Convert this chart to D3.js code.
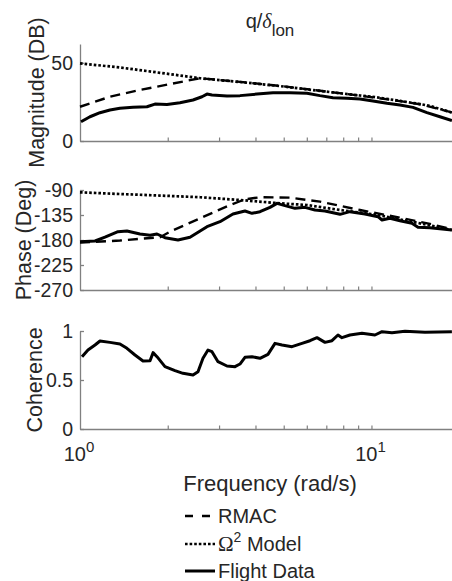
<!DOCTYPE html>
<html>
<head>
<meta charset="utf-8">
<script src="https://cdn.jsdelivr.net/npm/d3@7"></script>
<style>
  body { margin: 0; background: #fff; }
  svg { display: block; font-family: Arial, "Liberation Sans", sans-serif; }
</style>
</head>
<body>
<div id="chart"></div>
<script>
// frequencies (rad/s), one list per series
const magFlightFreq = [1.008, 1.082, 1.171, 1.267, 1.371, 1.520, 1.697, 1.808, 1.988, 2.203, 2.442, 2.621, 2.727, 2.837, 3.193, 3.539, 4.048, 4.593, 5.253, 6.008, 6.658, 7.378, 8.240, 9.131, 10.12, 11.30, 12.53, 13.88, 15.50, 17.18, 18.88];
const magFlight     = [12.3, 15.5, 18.1, 19.8, 20.9, 21.5, 21.9, 23.6, 23.4, 24.5, 26.2, 28.3, 30.0, 29.4, 28.8, 29.0, 30.0, 30.9, 30.9, 30.5, 29.0, 27.7, 27.3, 26.8, 25.6, 24.1, 23.0, 21.5, 18.1, 15.5, 13.0];

const magModelFreq = [1.0, 1.371, 1.882, 2.580, 3.539, 4.855, 6.658, 9.131, 10.28, 12.53, 14.67, 15.87, 18.88];
const magModel     = [49.6, 47.0, 43.6, 40.1, 37.7, 35.1, 32.0, 29.1, 28.1, 25.6, 23.6, 22.4, 18.2];

const magRmacFreq = [1.0, 1.267, 1.606, 2.036, 2.580, 3.539, 4.855, 6.658, 9.131, 12.53, 14.67, 18.88];
const magRmac     = [21.9, 28.3, 32.6, 36.4, 40.1, 37.8, 35.2, 32.1, 29.0, 25.5, 23.5, 18.3];

const phFlightFreq = [1.0, 1.126, 1.218, 1.350, 1.449, 1.606, 1.739, 1.837, 1.957, 2.169, 2.385, 2.727, 3.022, 3.348, 3.681, 3.891, 4.145, 4.485, 4.741, 5.050, 5.465, 5.914, 6.400, 6.927, 7.797, 8.437, 9.499, 10.53, 10.87, 11.57, 12.53, 13.77, 14.44, 15.87, 18.88];
const phFlight     = [-183, -181.8, -175, -165, -163.8, -169.2, -171.6, -169.2, -175.8, -180, -175, -156, -147, -133.2, -127.8, -132, -129, -121.2, -114, -118.2, -123, -121.2, -126, -127.8, -133.8, -129, -133.2, -138, -144, -141, -145.2, -150, -157.2, -157.8, -162];

const phModelFreq = [1.0, 1.371, 1.882, 2.580, 3.539, 4.855, 6.008, 7.797, 10.53, 14.67, 18.88];
const phModel     = [-94.2, -97.2, -100, -103, -108, -114, -117, -126, -135, -150, -162];

const phRmacFreq = [1.0, 1.371, 1.882, 2.036, 2.580, 3.270, 3.681, 4.145, 5.253, 6.658, 9.131, 12.53, 15.87, 18.88];
const phRmac     = [-184.8, -181, -175, -165, -141, -117, -106.8, -103, -103.8, -111, -126, -139.8, -151, -160.7];

const cohFreq = [1.016, 1.065, 1.126, 1.171, 1.267, 1.371, 1.449, 1.544, 1.645, 1.739, 1.781, 1.837, 1.957, 2.118, 2.256, 2.442, 2.540, 2.642, 2.749, 2.837, 2.975, 3.193, 3.402, 3.539, 3.681, 3.891, 4.145, 4.415, 4.667, 4.932, 5.337, 5.776, 6.152, 6.502, 6.927, 7.320, 7.675, 7.921, 8.437, 9.277, 10.28, 10.87, 11.76, 13.03, 15.26, 18.88];
const coh     = [0.738, 0.806, 0.857, 0.898, 0.884, 0.867, 0.823, 0.755, 0.694, 0.697, 0.779, 0.738, 0.636, 0.595, 0.568, 0.551, 0.585, 0.721, 0.806, 0.789, 0.687, 0.643, 0.636, 0.663, 0.731, 0.738, 0.721, 0.762, 0.874, 0.857, 0.840, 0.874, 0.901, 0.932, 0.884, 0.901, 0.959, 0.932, 0.959, 0.976, 0.959, 0.993, 0.983, 0.997, 0.987, 0.993];

const magTicks = [0, 50];
const phaseTicks = [-270, -225, -180, -135, -90];
const cohTicks = [0, 0.5, 1];
const freqMinor = [2, 3, 4, 5, 6, 7, 8, 9, 10];
const freqLabels = [[1, '0'], [10, '1']];

const width = 452, height = 581;
const axisColor = '#808080', textColor = '#262626';

const svg = d3.select('#chart').append('svg')
  .attr('width', width)
  .attr('height', height);

const x = d3.scaleLog().domain([1, 20]).range([80, 459.2]);

const styles = {
  flight: { dash: null, w: 3 },
  model: { dash: '2.6,2', w: 2.7 },
  rmac: { dash: '10,6', w: 2.4 }
};

const panels = [
  { label: 'Magnitude (DB)', domain: [0, 62], range: [141, 44], ticks: magTicks, labelX: 44,
    series: [['model', magModelFreq, magModel], ['rmac', magRmacFreq, magRmac], ['flight', magFlightFreq, magFlight]] },
  { label: 'Phase (Deg)', domain: [-270, -90], range: [290, 190], ticks: phaseTicks, labelX: 31,
    series: [['model', phModelFreq, phModel], ['rmac', phRmacFreq, phRmac], ['flight', phFlightFreq, phFlight]] },
  { label: 'Coherence', domain: [0, 1], range: [429, 331], ticks: cohTicks, labelX: 42,
    series: [['flight', cohFreq, coh]] }
];

panels.forEach((p, i) => {
  const y = d3.scaleLinear().domain(p.domain).range(p.range);
  const g = svg.append('g');

  // y axis (plain hyphen for negatives, like the original)
  const ya = g.append('g')
    .attr('transform', 'translate(80,0)')
    .call(d3.axisLeft(y).tickValues(p.ticks).tickFormat(d => String(d))
      .tickSize(-4).tickSizeOuter(0).tickPadding(7));
  ya.select('.domain').attr('stroke', axisColor).attr('stroke-width', 1.3);
  ya.selectAll('line').attr('stroke', axisColor).attr('stroke-width', 1.3);
  ya.selectAll('text').attr('fill', textColor).attr('font-size', 19.5)
    .attr('font-family', 'Arial, "Liberation Sans", sans-serif');

  // x axis
  const xa = g.append('g')
    .attr('transform', `translate(0,${p.range[0]})`)
    .call(d3.axisBottom(x).tickValues(freqMinor).tickSize(-3.5).tickSizeOuter(0).tickFormat(''));
  xa.select('.domain').attr('stroke', axisColor).attr('stroke-width', 1.3);
  xa.selectAll('line').attr('stroke', axisColor).attr('stroke-width', 1.2);

  // y label
  g.append('text')
    .attr('transform', `translate(${p.labelX},${(p.range[0] + p.range[1]) / 2}) rotate(-90)`)
    .attr('text-anchor', 'middle')
    .attr('font-size', 21.5)
    .attr('fill', textColor)
    .text(p.label);

  // curves
  const line = d3.line().x(d => x(d[0])).y(d => y(d[1]));
  p.series.forEach(([kind, fx, vals]) => {
    const s = styles[kind];
    g.append('path')
      .datum(fx.map((f, k) => [f, vals[k]]))
      .attr('d', line)
      .attr('fill', 'none')
      .attr('stroke', '#000')
      .attr('stroke-width', s.w)
      .attr('stroke-linejoin', 'round')
      .attr('stroke-dasharray', s.dash);
  });

  // x tick labels only on the bottom panel
  if (i === panels.length - 1) {
    freqLabels.forEach(([v, e]) => {
      const t = g.append('text')
        .attr('x', x(v) - 1)
        .attr('y', 461)
        .attr('text-anchor', 'middle')
        .attr('font-size', 20)
        .attr('fill', textColor);
      t.append('tspan').text('10');
      t.append('tspan').attr('font-size', 15).attr('dy', -9).text(e);
    });
  }
});

// title
const title = svg.append('text')
  .attr('x', 270).attr('y', 28)
  .attr('text-anchor', 'middle')
  .attr('font-size', 20)
  .attr('fill', textColor);
title.append('tspan').text('q/');
title.append('tspan').attr('font-style', 'italic').attr('font-family', '"Liberation Serif", serif').text('δ');
title.append('tspan').attr('font-size', 17).attr('dy', 8).text('lon');

// x label
svg.append('text')
  .attr('x', 270).attr('y', 491)
  .attr('text-anchor', 'middle')
  .attr('font-size', 22)
  .attr('fill', textColor)
  .text('Frequency (rad/s)');

// legend
const legendItems = [
  { kind: 'rmac', y: 516, label: ['RMAC'] },
  { kind: 'model', y: 544, label: ['Ω', '2', ' Model'] },
  { kind: 'flight', y: 571, label: ['Flight Data'] }
];
const lg = svg.append('g');
legendItems.forEach(it => {
  const s = styles[it.kind];
  lg.append('line')
    .attr('x1', 185).attr('x2', 215).attr('y1', it.y).attr('y2', it.y)
    .attr('stroke', '#000').attr('stroke-width', s.w)
    .attr('stroke-dasharray', it.kind === 'rmac' ? '8,9' : s.dash);
  const t = lg.append('text')
    .attr('x', 218).attr('y', it.y + 7)
    .attr('font-size', 20)
    .attr('fill', textColor);
  if (it.label.length === 1) {
    t.text(it.label[0]);
  } else {
    t.append('tspan').attr('font-family', '"Liberation Serif", serif').attr('font-size', 21).text(it.label[0]);
    t.append('tspan').attr('font-size', 14).attr('dy', -9).text(it.label[1]);
    t.append('tspan').attr('dy', 9).text(it.label[2]);
  }
});
</script>
</body>
</html>
